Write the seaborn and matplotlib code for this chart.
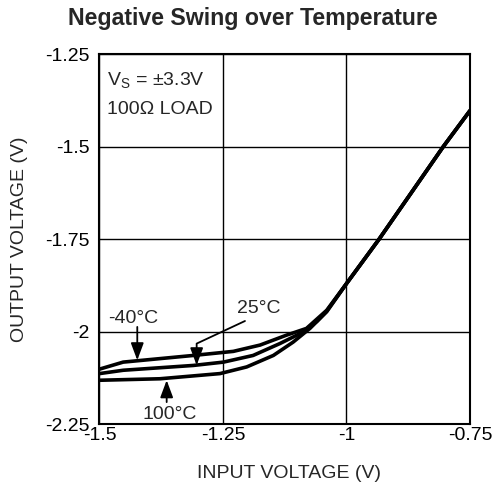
import numpy as np
import pandas as pd
import matplotlib
matplotlib.use("Agg")
import matplotlib.pyplot as plt
import seaborn as sns

# ---- data ----
x_m40 = [-1.5, -1.452, -1.31, -1.229, -1.175, -1.121, -1.081, -1.04, -1.0, -0.934, -0.87, -0.804, -0.75]
y_m40 = [-2.101, -2.082, -2.064, -2.053, -2.036, -2.009, -1.991, -1.942, -1.870, -1.750, -1.627, -1.500, -1.403]

x_25 = [-1.5, -1.452, -1.31, -1.249, -1.189, -1.135, -1.094, -1.06, -1.04, -1.0, -0.934, -0.87, -0.804, -0.75]
y_25 = [-2.113, -2.104, -2.091, -2.082, -2.064, -2.032, -2.005, -1.972, -1.944, -1.870, -1.750, -1.627, -1.500, -1.403]

x_100 = [-1.5, -1.378, -1.256, -1.202, -1.148, -1.108, -1.074, -1.04, -1.0, -0.934, -0.87, -0.804, -0.75]
y_100 = [-2.131, -2.127, -2.113, -2.095, -2.064, -2.028, -1.991, -1.946, -1.870, -1.750, -1.627, -1.500, -1.403]

series_names = ["-40°C", "25°C", "100°C"]
x_ticks = [-1.5, -1.25, -1.0, -0.75]
x_ticklabels = ["-1.5", "-1.25", "-1", "-0.75"]
y_ticks = [-2.25, -2.0, -1.75, -1.5, -1.25]
y_ticklabels = ["-2.25", "-2", "-1.75", "-1.5", "-1.25"]

df = pd.concat([
    pd.DataFrame({"x": x_m40, "y": y_m40, "temp": series_names[0]}),
    pd.DataFrame({"x": x_25, "y": y_25, "temp": series_names[1]}),
    pd.DataFrame({"x": x_100, "y": y_100, "temp": series_names[2]}),
], ignore_index=True)

sns.set_style("white")
plt.rcParams["font.family"] = ["Liberation Sans", "DejaVu Sans"]

FS = 14
fig = plt.figure(figsize=(4.93, 4.87), dpi=100)
ax = fig.add_axes([0.2018, 0.1287, 0.7515, 0.7604])

sns.lineplot(data=df, x="x", y="y", hue="temp", palette=["black"] * 3,
             linewidth=2.6, legend=False, ax=ax, sort=False, estimator=None)

ax.set_xlim(-1.5, -0.75)
ax.set_ylim(-2.25, -1.25)
ax.set_xticks(x_ticks)
ax.set_xticklabels(x_ticklabels)
ax.set_yticks(y_ticks)
ax.set_yticklabels(y_ticklabels)
ax.tick_params(axis="both", length=0, labelsize=FS, colors="black")
ax.tick_params(axis="x", pad=2)
ax.tick_params(axis="y", pad=7)
ax.grid(True, color="black", linewidth=1.0)
for s in ax.spines.values():
    s.set_color("black")
    s.set_linewidth(1.5)
    s.set_visible(True)

ax.set_xlabel("INPUT VOLTAGE (V)", fontsize=FS, va="center")
ax.set_ylabel("OUTPUT VOLTAGE (V)", fontsize=FS, va="center")
ax.xaxis.set_label_coords(0.511, -0.134)
ax.yaxis.set_label_coords(-0.217, 0.5)
fig.text(0.513, 1 - 18.5 / 487, "Negative Swing over Temperature", fontsize=16.7,
         fontweight="bold", ha="center", va="center")

# Box text
ax.text(-1.4854, -1.322, r"V$_\mathregular{S}$ = ±3.3V", fontsize=FS, va="center", ha="left")
ax.text(-1.4854, -1.399, "100Ω LOAD", fontsize=FS, va="center", ha="left")

arrow = dict(arrowstyle="-|>,head_length=0.75,head_width=0.28", color="black", lw=1.3,
             shrinkA=0, shrinkB=0, mutation_scale=14)

# -40°C
ax.text(-1.4316, -1.964, series_names[0], fontsize=FS, ha="center", va="center")
ax.annotate("", xy=(-1.4235, -2.077), xytext=(-1.4235, -1.987), arrowprops=arrow)

# 25°C
ax.text(-1.1785, -1.937, series_names[1], fontsize=FS, ha="center", va="center")
ax.plot([-1.2055, -1.3033, -1.3033], [-1.971, -2.032, -2.050], color="black", lw=1.3)
ax.annotate("", xy=(-1.3033, -2.0905), xytext=(-1.3033, -2.045), arrowprops=arrow)

# 100°C
ax.text(-1.3573, -2.223, series_names[2], fontsize=FS, ha="center", va="center")
ax.annotate("", xy=(-1.364, -2.131), xytext=(-1.364, -2.190), arrowprops=arrow)

fig.savefig("out.png", dpi=100)
